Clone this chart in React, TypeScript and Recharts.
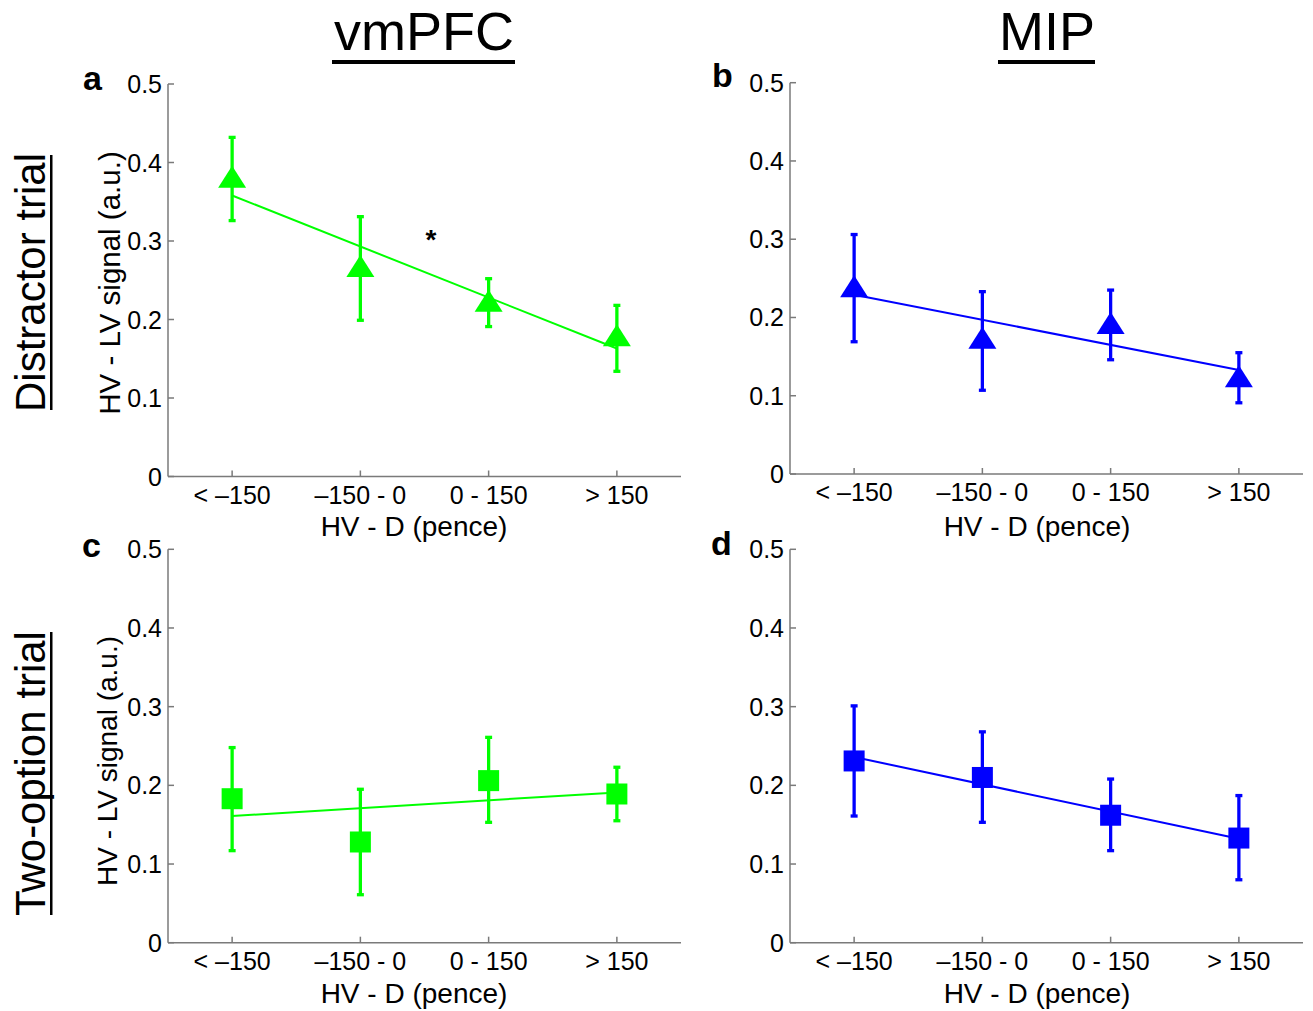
import React from "react";
import { ComposedChart, XAxis, YAxis, Scatter, Line, ErrorBar } from "recharts";

const categories = ["< \u2013150", "\u2013150 - 0", "0 - 150", "> 150"];
const xPositions = [1, 2, 3, 4];
const yTicks = [0, 0.1, 0.2, 0.3, 0.4, 0.5];

// Panel a: vmPFC, distractor trial
const aMean = [0.382, 0.268, 0.224, 0.18];
const aLow = [0.326, 0.199, 0.191, 0.134];
const aHigh = [0.432, 0.331, 0.252, 0.218];
const aFit = [0.358, 0.163];

// Panel b: MIP, distractor trial
const bMean = [0.24, 0.174, 0.193, 0.125];
const bLow = [0.169, 0.107, 0.146, 0.091];
const bHigh = [0.306, 0.233, 0.235, 0.155];
const bFit = [0.229, 0.133];

// Panel c: vmPFC, two-option trial
const cMean = [0.183, 0.128, 0.206, 0.189];
const cLow = [0.117, 0.061, 0.153, 0.155];
const cHigh = [0.248, 0.195, 0.261, 0.223];
const cFit = [0.161, 0.191];

// Panel d: MIP, two-option trial
const dMean = [0.231, 0.21, 0.162, 0.133];
const dLow = [0.161, 0.153, 0.117, 0.08];
const dHigh = [0.301, 0.268, 0.208, 0.187];
const dFit = [0.236, 0.132];

const FONT = "'Liberation Sans', Arial, Helvetica, sans-serif";
const AXIS = "#7a7a7a";
const GREEN = "#00ff00";
const BLUE = "#0000ff";

function buildRows(mean: number[], low: number[], high: number[], fit: number[]) {
  return xPositions.map((x, i) => ({
    x,
    mean: mean[i],
    err: [mean[i] - low[i], high[i] - mean[i]],
    fit: i === 0 ? fit[0] : i === xPositions.length - 1 ? fit[1] : null,
  }));
}

const YTick = (props: any) => {
  const { x, y, payload } = props;
  return (
    <g>
      <line x1={x} x2={x + 6} y1={y} y2={y} stroke={AXIS} strokeWidth={1.5} />
      <text x={x - 6} y={y} dy={9} textAnchor="end" fontSize={25} fontFamily={FONT} fill="#000">
        {String(payload.value)}
      </text>
    </g>
  );
};

const XTick = (props: any) => {
  const { x, y, payload } = props;
  const idx = xPositions.indexOf(payload.value);
  return (
    <g>
      <line x1={x} x2={x} y1={y} y2={y - 6} stroke={AXIS} strokeWidth={1.5} />
      <text x={x} y={y + 27} textAnchor="middle" fontSize={25} fontFamily={FONT} fill="#000">
        {idx >= 0 ? categories[idx] : ""}
      </text>
    </g>
  );
};

const makeTriangle = (color: string) => (props: any) => {
  const { cx, cy } = props;
  if (cx == null || cy == null) return <g />;
  return (
    <polygon
      points={`${cx},${cy - 11} ${cx - 14},${cy + 11} ${cx + 14},${cy + 11}`}
      fill={color}
    />
  );
};

const makeSquare = (color: string) => (props: any) => {
  const { cx, cy } = props;
  if (cx == null || cy == null) return <g />;
  return <rect x={cx - 10.5} y={cy - 10.5} width={21} height={21} fill={color} />;
};

type PanelProps = {
  left: number;
  top: number;
  width: number;
  height: number;
  margin: { top: number; left: number; right: number; bottom: number };
  rows: any[];
  color: string;
  marker: "triangle" | "square";
};

const Panel = ({ left, top, width, height, margin, rows, color, marker }: PanelProps) => (
  <div style={{ position: "absolute", left, top, width, height }}>
    <ComposedChart width={width} height={height} data={rows} margin={margin}>
      <XAxis
        dataKey="x"
        type="number"
        domain={[0.5, 4.5]}
        ticks={xPositions}
        interval={0}
        allowDataOverflow
        height={40}
        tickSize={0}
        tickMargin={0}
        tickLine={false}
        axisLine={{ stroke: AXIS, strokeWidth: 1.5 }}
        tick={<XTick />}
      />
      <YAxis
        type="number"
        domain={[0, 0.5]}
        ticks={yTicks}
        interval={0}
        allowDataOverflow
        width={60}
        tickSize={0}
        tickMargin={0}
        tickLine={false}
        axisLine={{ stroke: AXIS, strokeWidth: 1.5 }}
        tick={<YTick />}
      />
      <Line
        dataKey="fit"
        stroke={color}
        strokeWidth={2}
        dot={false}
        activeDot={false}
        connectNulls
        isAnimationActive={false}
      />
      <Scatter
        dataKey="mean"
        fill={color}
        shape={marker === "triangle" ? makeTriangle(color) : makeSquare(color)}
        isAnimationActive={false}
      >
        <ErrorBar dataKey="err" direction="y" width={3.5} stroke={color} strokeWidth={3.3} />
      </Scatter>
    </ComposedChart>
  </div>
);

export default function App() {
  const aRows = buildRows(aMean, aLow, aHigh, aFit);
  const bRows = buildRows(bMean, bLow, bHigh, bFit);
  const cRows = buildRows(cMean, cLow, cHigh, cFit);
  const dRows = buildRows(dMean, dLow, dHigh, dFit);

  return (
    <div
      style={{
        position: "absolute",
        left: 0,
        top: 0,
        width: 1313,
        height: 1011,
        background: "#fff",
        overflow: "hidden",
      }}
    >
      <Panel
        left={0}
        top={0}
        width={700}
        height={540}
        margin={{ top: 84, left: 108, right: 19, bottom: 23.5 }}
        rows={aRows}
        color={GREEN}
        marker="triangle"
      />
      <Panel
        left={620}
        top={0}
        width={693}
        height={540}
        margin={{ top: 82.7, left: 110, right: 10, bottom: 26 }}
        rows={bRows}
        color={BLUE}
        marker="triangle"
      />
      <Panel
        left={0}
        top={470}
        width={700}
        height={541}
        margin={{ top: 79.3, left: 108, right: 19, bottom: 28.3 }}
        rows={cRows}
        color={GREEN}
        marker="square"
      />
      <Panel
        left={620}
        top={470}
        width={693}
        height={541}
        margin={{ top: 79.3, left: 110, right: 10, bottom: 28.3 }}
        rows={dRows}
        color={BLUE}
        marker="square"
      />

      <svg
        width={1313}
        height={1011}
        style={{ position: "absolute", left: 0, top: 0, pointerEvents: "none" }}
        fontFamily={FONT}
      >
        {/* Column titles */}
        <text x={424} y={50} textAnchor="middle" fontSize={54} fill="#000">vmPFC</text>
        <rect x={332} y={60} width={183} height={4} fill="#000" />
        <text x={1047} y={50} textAnchor="middle" fontSize={54} fill="#000">MIP</text>
        <rect x={998} y={60} width={97} height={4} fill="#000" />

        {/* Row labels */}
        <text transform="translate(45,282.5) rotate(-90)" textAnchor="middle" fontSize={42} fill="#000">
          Distractor trial
        </text>
        <rect x={50} y={155} width={2.5} height={255} fill="#000" />
        <text transform="translate(45,773.5) rotate(-90)" textAnchor="middle" fontSize={42} fill="#000">
          Two-option trial
        </text>
        <rect x={50} y={632} width={2.5} height={283} fill="#000" />

        {/* Y axis labels */}
        <text transform="translate(120,283) rotate(-90)" textAnchor="middle" fontSize={29.5} fill="#000">
          HV - LV signal (a.u.)
        </text>
        <text transform="translate(117,761) rotate(-90)" textAnchor="middle" fontSize={28} fill="#000">
          HV - LV signal (a.u.)
        </text>

        {/* X axis labels */}
        <text x={414} y={536} textAnchor="middle" fontSize={28} fill="#000">HV - D (pence)</text>
        <text x={1037} y={536} textAnchor="middle" fontSize={28} fill="#000">HV - D (pence)</text>
        <text x={414} y={1003} textAnchor="middle" fontSize={28} fill="#000">HV - D (pence)</text>
        <text x={1037} y={1003} textAnchor="middle" fontSize={28} fill="#000">HV - D (pence)</text>

        {/* Panel letters */}
        <text x={83} y={90} fontSize={34} fontWeight="bold" fill="#000">a</text>
        <text x={712} y={87} fontSize={34} fontWeight="bold" fill="#000">b</text>
        <text x={82} y={557} fontSize={34} fontWeight="bold" fill="#000">c</text>
        <text x={711} y={555} fontSize={34} fontWeight="bold" fill="#000">d</text>

        {/* Significance marker */}
        <text x={431} y={249} textAnchor="middle" fontSize={28} fontWeight="bold" fill="#000">*</text>
      </svg>
    </div>
  );
}
